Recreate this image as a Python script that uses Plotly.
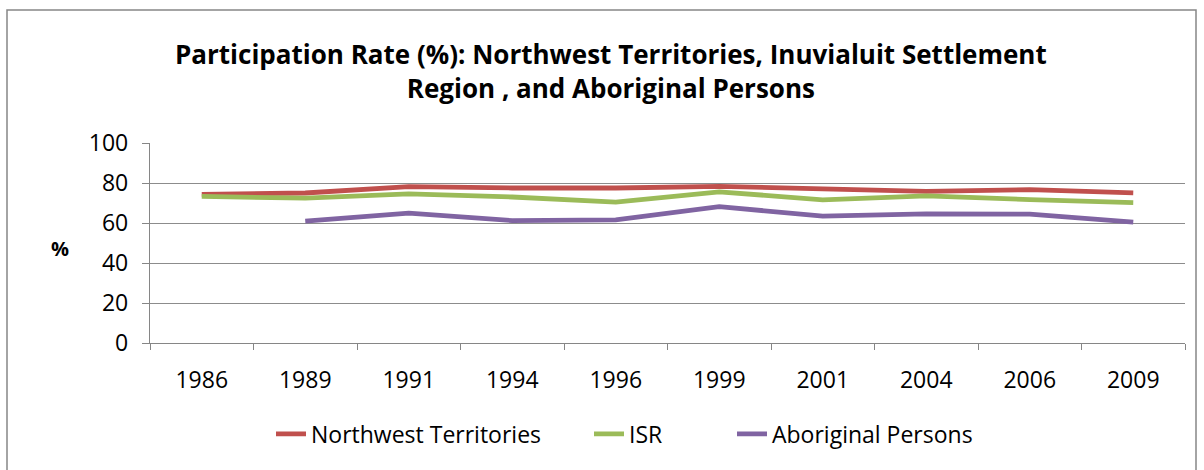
import plotly.graph_objects as go

years = ["1986", "1989", "1991", "1994", "1996", "1999", "2001", "2004", "2006", "2009"]
nwt = [74.3, 75.0, 78.2, 77.5, 77.5, 78.3, 77.1, 75.8, 76.7, 75.1]
isr = [73.3, 72.4, 74.6, 73.0, 70.4, 75.6, 71.6, 73.6, 71.7, 70.2]
aboriginal = [None, 60.9, 64.9, 61.2, 61.6, 68.2, 63.4, 64.6, 64.4, 60.4]

series_names = ["Northwest Territories", "ISR", "Aboriginal Persons"]
colors = ["#C0504D", "#9BBB59", "#8064A2"]
legend_ids = ["legend", "legend2", "legend3"]

fig = go.Figure()
for name, vals, col, lg in zip(series_names, [nwt, isr, aboriginal], colors, legend_ids):
    fig.add_trace(go.Scatter(x=years, y=vals, name=name, mode="lines", legend=lg,
                             line=dict(color=col, width=4.8), connectgaps=False))

L, R, T, B = 150, 1185, 143, 343
W, H = 1204, 470
def px(x):
    return (x - L) / (R - L)
def py(y):
    return (B - y) / (B - T)

legend_x = [271, 589, 732]
def leg(x):
    return dict(orientation="h", x=px(x), xanchor="left", y=py(434), yanchor="middle",
                font=dict(size=23), bgcolor="rgba(0,0,0,0)")

fig.update_layout(
    width=W, height=H,
    margin=dict(l=L, r=W - R, t=T, b=H - B),
    paper_bgcolor="white", plot_bgcolor="white",
    font=dict(family="Open Sans, Liberation Sans, sans-serif", color="black"),
    showlegend=True,
    legend=leg(legend_x[0]), legend2=leg(legend_x[1]), legend3=leg(legend_x[2]),
    xaxis=dict(type="category", range=[-0.5, 9.5], showgrid=False,
               showline=True, linecolor="#868686", linewidth=1.3,
               ticks="outside", tickson="boundaries", ticklen=6, tickcolor="#868686",
               tickfont=dict(size=23), ticklabelstandoff=16, fixedrange=True),
    yaxis=dict(range=[0, 100], dtick=20, showgrid=True, gridcolor="#8c8c8c", gridwidth=1.3,
               showline=True, linecolor="#868686", linewidth=1.3, zeroline=False,
               ticks="outside", ticklen=7, tickcolor="#868686",
               tickfont=dict(size=23), ticklabelstandoff=9, fixedrange=True),
)

fig.add_annotation(text="<b>Participation Rate (%): Northwest Territories, Inuvialuit Settlement<br>Region , and Aboriginal Persons</b>",
                   xref="paper", yref="paper", x=px(611), y=py(71), xanchor="center", yanchor="middle",
                   showarrow=False, font=dict(size=26, family="Open Sans, sans-serif"), align="center")
fig.add_annotation(text="<b>%</b>", xref="paper", yref="paper", x=px(60), y=py(248),
                   xanchor="center", yanchor="middle", showarrow=False, font=dict(size=20))

fig.add_shape(type="rect", xref="paper", yref="paper",
              x0=px(7), x1=px(1196), y0=py(480), y1=py(10),
              line=dict(color="#868686", width=1.5), fillcolor="rgba(0,0,0,0)", layer="below")

fig.write_html("out.html", config={"displayModeBar": False},
               post_script="document.body.style.margin='0';document.body.style.overflow='hidden';")
